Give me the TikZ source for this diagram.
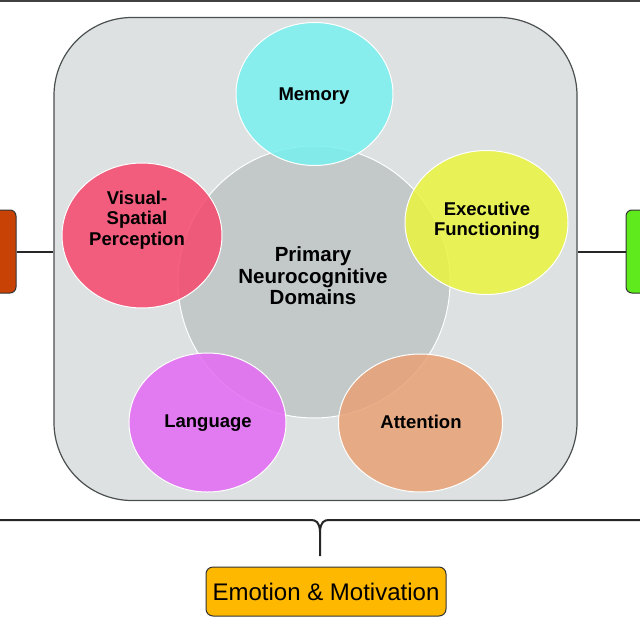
\documentclass[tikz,border=0pt]{standalone}
\usepackage{fontspec}
\setmainfont{Liberation Sans}
\usetikzlibrary{shapes.geometric}
\definecolor{panelfill}{HTML}{DDE1E1}
\definecolor{panelline}{HTML}{4A4F4F}
\definecolor{corefill}{HTML}{C3C9C9}
\definecolor{memcol}{HTML}{78F0F0}
\definecolor{execol}{HTML}{EAF43E}
\definecolor{viscol}{HTML}{F6476C}
\definecolor{lancol}{HTML}{E46AF4}
\definecolor{attcol}{HTML}{E8A276}
\definecolor{leftcol}{HTML}{C84206}
\definecolor{rightcol}{HTML}{5EEA1C}
\definecolor{emocol}{HTML}{FFB800}
\begin{document}
\begin{tikzpicture}[x=1pt,y=-1pt,
  domainellipse/.style={ellipse, draw=white, line width=1pt, fill opacity=0.85, inner sep=0pt},
  lbl/.style={font=\fontsize{18.5}{20.5}\selectfont\bfseries, align=center, text=black},
  sidebox/.style={rectangle, rounded corners=6pt, draw=black!80, line width=1pt, minimum width=40pt, minimum height=83pt},
  link/.style={line width=2pt, black!85}]
\useasboundingbox (0,0) rectangle (640,640);
% top line
\coordinate (TL) at (0,1);
\coordinate (TR) at (640,1);
\draw[line width=2pt, black!75] (TL) -- (TR);
% panel
\node[rectangle, rounded corners=78pt, draw=panelline, line width=1.2pt, fill=panelfill,
  minimum width=523pt, minimum height=483pt, inner sep=0pt] (panel) at (315.5,259) {};
% core circle
\node[circle, draw=white, line width=1pt, fill=corefill, minimum size=272pt, inner sep=0pt] (core) at (314,282) {};
% domains
\node[domainellipse, fill=memcol, minimum width=157pt, minimum height=143pt] (mem) at (314.5,94) {};
\node[domainellipse, fill=execol, minimum width=163pt, minimum height=144pt] (exe) at (486.5,222.5) {};
\node[domainellipse, fill=viscol, minimum width=160pt, minimum height=145pt] (vis) at (142,235.5) {};
\node[domainellipse, fill=lancol, minimum width=157pt, minimum height=139pt] (lan) at (207.5,422.5) {};
\node[domainellipse, fill=attcol, minimum width=164pt, minimum height=138pt] (att) at (420.5,423) {};
% labels
\node[lbl] (memt) at (314,96) {Memory};
\node[lbl] (exet) at (487,221) {Executive\\Functioning};
\node[lbl] (vist) at (137,220) {Visual-\\Spatial\\Perception};
\node[lbl] (lant) at (208,423) {Language};
\node[lbl] (attt) at (421,422) {Attention};
\node[font=\fontsize{20.5}{21.5}\selectfont\bfseries, align=center, text=black] (coret) at (313,276) {Primary\\Neurocognitive\\Domains};
% side boxes
\node[sidebox, fill=leftcol] (lbox) at (-4,251.5) {};
\node[sidebox, fill=rightcol] (rbox) at (646,251.5) {};
\draw[link] (lbox.east) -- (panel.west |- lbox.east);
\draw[link] (rbox.west) -- (panel.east |- rbox.west);
% brace
\coordinate (BL) at (0,520);
\coordinate (BR) at (640,520);
\coordinate (BT) at (320,556);
\draw[line width=2pt, black!85, line join=round]
  (BL) -- (311,520) .. controls (316,520) and (319.6,522) .. (320,532) -- (BT);
\draw[line width=2pt, black!85, line join=round]
  (BR) -- (329,520) .. controls (324,520) and (320.4,522) .. (320,532);
% emotion box
\node[rectangle, rounded corners=7pt, draw=black!80, line width=1pt, fill=emocol,
  minimum width=240pt, minimum height=49pt, font=\fontsize{24}{26}\selectfont, text=black] (emo) at (326,591.5) {Emotion \& Motivation};
\end{tikzpicture}
\end{document}
